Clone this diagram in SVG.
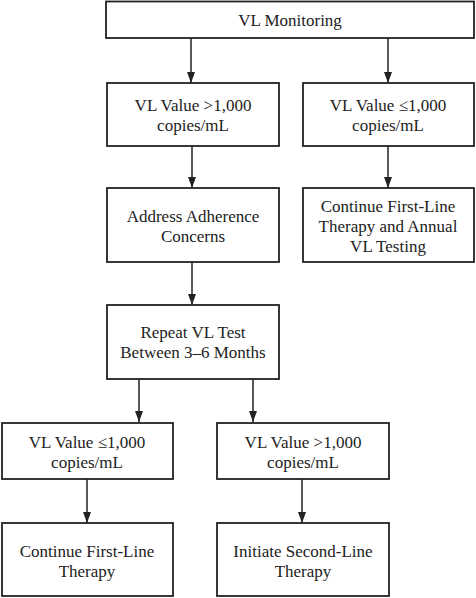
<svg xmlns="http://www.w3.org/2000/svg" width="476" height="598" viewBox="0 0 476 598">
<defs>
<style>
.box{fill:#fff;stroke:#222;stroke-width:1.8}
.t{font-family:"Liberation Serif","Times New Roman",serif;font-size:17px;fill:#222;text-anchor:middle}
.c{stroke:#222;stroke-width:1.5;fill:none}
</style>
<marker id="arr" viewBox="0 0 11 8" refX="11" refY="4" markerWidth="11" markerHeight="8" orient="auto" markerUnits="userSpaceOnUse">
<path d="M0,0 L11,4 L0,8 Z" fill="#222"/>
</marker>
</defs>
<rect width="476" height="598" fill="#fff"/>
<g id="connectors">
<line class="c" x1="191" y1="38" x2="191" y2="83" marker-end="url(#arr)"/>
<line class="c" x1="388" y1="38" x2="388" y2="83" marker-end="url(#arr)"/>
<line class="c" x1="192" y1="146" x2="192" y2="188" marker-end="url(#arr)"/>
<line class="c" x1="388" y1="146" x2="388" y2="188" marker-end="url(#arr)"/>
<line class="c" x1="192" y1="262" x2="192" y2="305" marker-end="url(#arr)"/>
<line class="c" x1="139" y1="379" x2="139" y2="422" marker-end="url(#arr)"/>
<line class="c" x1="253" y1="379" x2="253" y2="422" marker-end="url(#arr)"/>
<line class="c" x1="87" y1="479" x2="87" y2="523" marker-end="url(#arr)"/>
<line class="c" x1="302" y1="479" x2="302" y2="523" marker-end="url(#arr)"/>
</g>
<g id="n1"><rect class="box" x="106" y="1.5" width="368" height="36.5"/><text class="t" x="290" y="26">VL Monitoring</text></g>
<g id="n2"><rect class="box" x="107" y="83" width="172" height="63"/><text class="t" x="193" y="111">VL Value &gt;1,000</text><text class="t" x="193" y="131">copies/mL</text></g>
<g id="n3"><rect class="box" x="303" y="83" width="171" height="63"/><text class="t" x="388" y="111">VL Value ≤1,000</text><text class="t" x="388" y="131">copies/mL</text></g>
<g id="n4"><rect class="box" x="107" y="188" width="172" height="74"/><text class="t" x="193" y="222">Address Adherence</text><text class="t" x="193" y="242">Concerns</text></g>
<g id="n5"><rect class="box" x="303" y="188" width="171" height="74"/><text class="t" x="388" y="212">Continue First-Line</text><text class="t" x="388" y="232">Therapy and Annual</text><text class="t" x="388" y="252">VL Testing</text></g>
<g id="n6"><rect class="box" x="107" y="305" width="172" height="74"/><text class="t" x="193" y="338">Repeat VL Test</text><text class="t" x="193" y="358">Between 3–6 Months</text></g>
<g id="n7"><rect class="box" x="2" y="423" width="171" height="56"/><text class="t" x="87" y="448">VL Value ≤1,000</text><text class="t" x="87" y="468">copies/mL</text></g>
<g id="n8"><rect class="box" x="217" y="423" width="172" height="56"/><text class="t" x="303" y="448">VL Value &gt;1,000</text><text class="t" x="303" y="468">copies/mL</text></g>
<g id="n9"><rect class="box" x="2" y="523" width="171" height="73"/><text class="t" x="87" y="557">Continue First-Line</text><text class="t" x="87" y="577">Therapy</text></g>
<g id="n10"><rect class="box" x="217" y="523" width="172" height="73"/><text class="t" x="303" y="557">Initiate Second-Line</text><text class="t" x="303" y="577">Therapy</text></g>
</svg>
